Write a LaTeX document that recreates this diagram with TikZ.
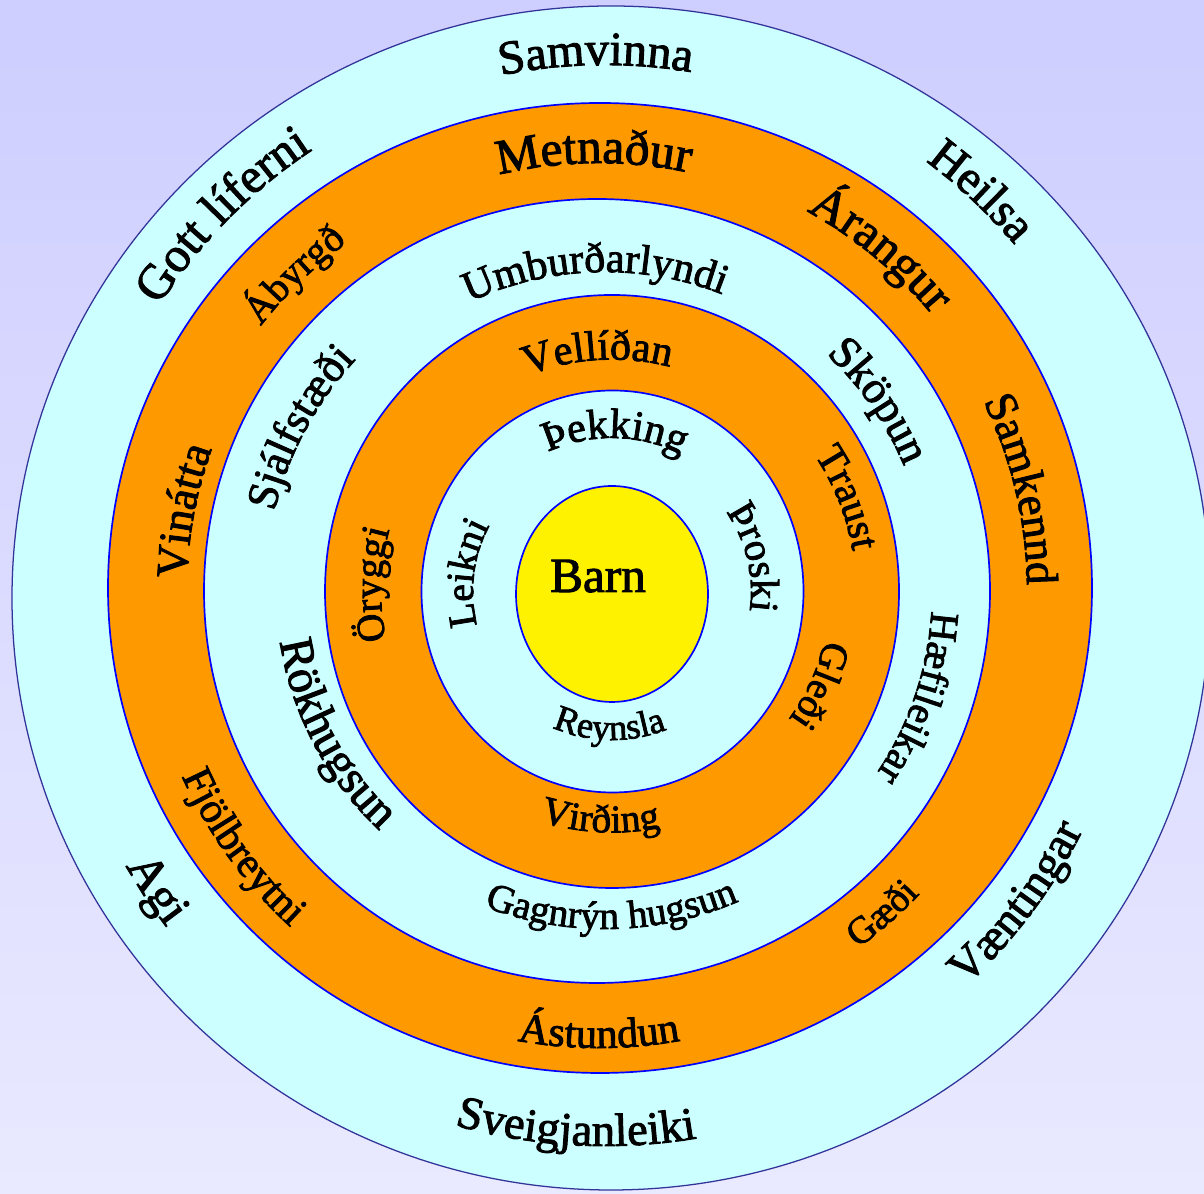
\documentclass[tikz,border=0pt]{standalone}
\usepackage{fontspec}
\setmainfont{Liberation Serif}[FakeBold=2]
\usetikzlibrary{decorations.text}

\definecolor{bandcyan}{HTML}{CCFFFF}
\definecolor{bandorange}{HTML}{FF9900}
\definecolor{outerline}{HTML}{333399}
\definecolor{bgtop}{RGB}{206,206,255}
\definecolor{bgbottom}{RGB}{233,233,255}

% word on a ring: centre, baseline radius, mid angle, half span (<0 = counter-clockwise), size, word
\newcommand{\ringword}[6]{%
  \path[decorate,decoration={text along path,text align=center,
      text={|\fontsize{#5}{#5}\selectfont|#6}}]
    (#1) ++({#3+(#4)}:#2) arc[start angle={#3+(#4)},end angle={#3-(#4)},radius=#2];}

\begin{document}
\begin{tikzpicture}[x=0.025cm,y=0.025cm,
    ring/.style={draw=blue,line width=1.2pt}]
  \useasboundingbox (0,0) rectangle (1204,1194);
  \clip (0,0) rectangle (1204,1194);
  \shade[top color=bgtop,bottom color=bgbottom] (0,0) rectangle (1204,1194);

  \draw[ring,draw=outerline,line width=0.9pt,fill=bandcyan] (611,596) ellipse [x radius=599,y radius=592];
  \draw[ring,fill=bandorange] (600,606) ellipse [x radius=492,y radius=485];
  \draw[ring,fill=bandcyan] (597,603) ellipse [x radius=393,y radius=392];
  \draw[ring,fill=bandorange] (612,602.5) ellipse [x radius=287,y radius=296.5];
  \draw[ring,fill=bandcyan] (612.5,602.5) ellipse [x radius=191,y radius=201];
  \draw[ring,fill=yellow] (612,600) ellipse [x radius=96,y radius=108];

  \coordinate (c1) at (605,602);
  \coordinate (c2) at (599,604);
  \coordinate (c3) at (605,603);
  \coordinate (c4) at (612,602.5);

  \node[anchor=base,font=\fontsize{35}{35}\selectfont] (barn) at (598,602) {Barn};

  % outer band
  \ringword{c1}{527}{91}{20}{34}{Samvinna}
  \ringword{c1}{537}{46.8}{20}{34}{Heilsa}
  \ringword{c1}{530}{135.4}{20}{35}{Gott líferni}
  \ringword{c1}{552}{213.6}{-20}{35}{Agi}
  \ringword{c1}{554}{266.9}{-20}{33}{Sveigjanleiki}
  \ringword{c1}{534}{323}{-20}{33}{Væntingar}

  % second band
  \ringword{c2}{427}{90.7}{22}{35}{Metnaður}
  \ringword{c2}{432}{50.4}{22}{35}{Árangur}
  \ringword{c2}{428}{13.4}{22}{32}{Samkennd}
  \ringword{c2}{429}{134}{22}{28}{Ábyrgð}
  \ringword{c2}{412}{169.2}{22}{32}{Vinátta}
  \ringword{c2}{457}{215.8}{-22}{30}{Fjölbreytni}
  \ringword{c2}{458}{270}{-22}{30}{Ástundun}
  \ringword{c2}{442}{311.2}{-22}{27}{Gæði}

  % third band
  \ringword{c3}{319}{91.8}{28}{30}{Umburðarlyndi}
  \ringword{c3}{324}{34.8}{28}{32}{Sköpun}
  \ringword{c3}{327}{-18.8}{28}{29}{Hæfileikar}
  \ringword{c3}{340}{151.8}{28}{31}{Sjálfstæði}
  \ringword{c3}{329}{207.8}{-28}{34}{Rökhugsun}
  \ringword{c3}{338}{271.2}{-28}{28}{Gagnrýn hugsun}

  % fourth band
  \ringword{c4}{232}{93.5}{32}{30}{Vellíðan}
  \ringword{c4}{244}{21.7}{32}{29}{Traust}
  \ringword{c4}{218}{-24.3}{32}{28}{Gleði}
  \ringword{c4}{241}{267.1}{-32}{28}{Virðing}
  \ringword{c4}{231}{178.3}{32}{28}{Öryggi}

  % inner band
  \ringword{c4}{153.5}{88.9}{42}{30}{Þekking}
  \ringword{c4}{139}{13.5}{42}{29}{Þroski}
  \ringword{c4}{148.5}{269}{-42}{26}{Reynsla}
  \ringword{c4}{139}{172.9}{42}{28}{Leikni}
\end{tikzpicture}
\end{document}
